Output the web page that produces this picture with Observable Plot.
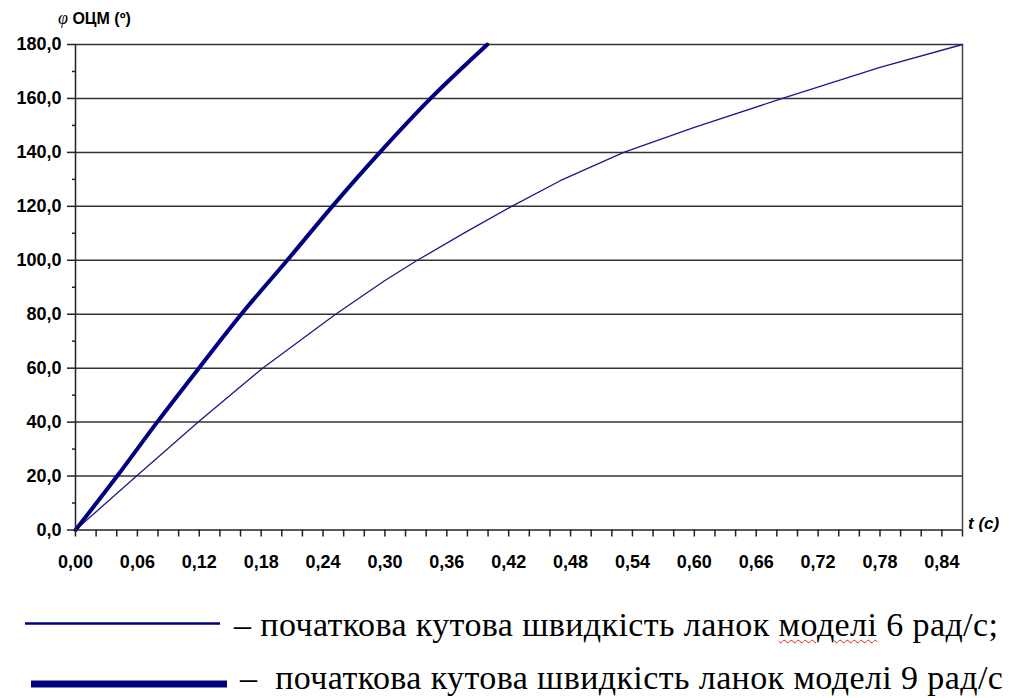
<!DOCTYPE html>
<html>
<head>
<meta charset="utf-8">
<script src="https://cdn.jsdelivr.net/npm/d3@7"></script>
<script src="https://cdn.jsdelivr.net/npm/@observablehq/plot@0.6"></script>
<style>
  html, body { margin: 0; padding: 0; background: #fff; }
  #wrap { position: relative; width: 1009px; height: 698px; overflow: hidden; }
  #chart { position: absolute; left: 0; top: 0; }
  .leg { position: absolute; font-family: "Liberation Serif", "Times New Roman", serif; font-size: 34px; letter-spacing: 0.4px; color: #000; white-space: pre; line-height: 0.9; }
  .wavy { text-decoration: underline wavy #e02020; text-decoration-thickness: 1px; text-underline-offset: 3px; }
  .ytitle { position: absolute; left: 58px; top: 8px; font-family: "Liberation Sans", Arial, sans-serif; font-weight: bold; font-size: 16px; white-space: pre; }
  .ytitle i { font-family: "Liberation Serif", serif; font-weight: normal; font-size: 18px; }
  .xtitle { position: absolute; left: 968px; top: 514px; font-family: "Liberation Sans", Arial, sans-serif; font-weight: bold; font-style: italic; font-size: 17px; white-space: pre; }
</style>
</head>
<body>
<div id="wrap">
  <div id="chart"></div>
  <div class="ytitle"><i>φ</i> ОЦМ (º)</div>
  <div class="xtitle">t (с)</div>
  <svg style="position:absolute;left:0;top:600px" width="260" height="98">
    <line x1="25" x2="220" y1="23.5" y2="23.5" stroke="#000080" stroke-width="2.5"/>
    <line x1="31" x2="227" y1="84" y2="84" stroke="#000080" stroke-width="7"/>
  </svg>
  <div class="leg" style="left:234px; top:610px;">– початкова кутова швидкість ланок <span class="wavy">моделі</span> 6 рад/с;</div>
  <div class="leg" style="left:240px; top:663px;">–  початкова кутова швидкість ланок моделі 9 рад/с</div>
</div>
<script>
// Series: initial angular velocity 6 rad/s (thin) and 9 rad/s (thick)
const t6   = [0, 0.0592, 0.119, 0.1814, 0.2522, 0.30, 0.3314, 0.38, 0.4229, 0.47, 0.5315, 0.60, 0.6854, 0.78, 0.86];
const phi6 = [0, 20, 40, 60, 80, 92.5, 100, 110.8, 120, 129.5, 140, 149.3, 160, 171.5, 180];
const t9   = [0, 0.0404, 0.0792, 0.1196, 0.1607, 0.2053, 0.249, 0.2951, 0.3443, 0.3993];
const phi9 = [0, 20, 40, 60, 80, 100, 120, 140, 160, 180];

const yTicks = [0, 20, 40, 60, 80, 100, 120, 140, 160, 180];
const yMinor = [10, 30, 50, 70, 90, 110, 130, 150, 170];
const xLabelTicks = [0, 0.06, 0.12, 0.18, 0.24, 0.30, 0.36, 0.42, 0.48, 0.54, 0.60, 0.66, 0.72, 0.78, 0.84];
const xMinor = [0, 0.02, 0.04, 0.06, 0.08, 0.10, 0.12, 0.14, 0.16, 0.18, 0.20, 0.22, 0.24, 0.26, 0.28, 0.30, 0.32, 0.34, 0.36, 0.38, 0.40, 0.42, 0.44, 0.46, 0.48, 0.50, 0.52, 0.54, 0.56, 0.58, 0.60, 0.62, 0.64, 0.66, 0.68, 0.70, 0.72, 0.74, 0.76, 0.78, 0.80, 0.82, 0.84, 0.86];
const xMax = 0.86, yMax = 180;

const s6 = t6.map((t, i) => ({t, phi: phi6[i]}));
const s9 = t9.map((t, i) => ({t, phi: phi9[i]}));
const comma = (d, n) => d.toFixed(n).replace(".", ",");

const chart = Plot.plot({
  width: 1009,
  height: 580,
  marginLeft: 75,
  marginRight: 47,
  marginTop: 44,
  marginBottom: 50.5,
  style: {fontFamily: "'Liberation Sans', Arial, sans-serif", background: "#fff", color: "#000"},
  x: {domain: [0, xMax]},
  y: {domain: [0, yMax]},
  marks: [
    Plot.gridY(yTicks.slice(1), {stroke: "#333", strokeOpacity: 1, strokeWidth: 1.5}),
    Plot.ruleX([xMax], {stroke: "#444", strokeWidth: 1.5}),
    Plot.line(s6, {x: "t", y: "phi", stroke: "#1a1a8c", strokeWidth: 1.3}),
    Plot.line(s9, {x: "t", y: "phi", stroke: "#000080", strokeWidth: 4, curve: "monotone-x"}),
    Plot.ruleX([0], {stroke: "#222", strokeWidth: 1.5}),
    Plot.ruleY([0], {stroke: "#222", strokeWidth: 1.5}),
    Plot.axisY(yTicks, {tickSize: 8, tickPadding: 6, tickFormat: d => comma(d, 1), fontSize: 18, fontWeight: "bold", stroke: "#222", strokeWidth: 1.5, label: null}),
    Plot.axisY(yMinor, {tickSize: 3, tickFormat: () => "", stroke: "#222", strokeWidth: 1.5, label: null}),
    Plot.axisX(xMinor, {tickSize: 7, tickFormat: () => "", stroke: "#222", strokeWidth: 1.5, label: null}),
    Plot.axisX(xLabelTicks, {tickSize: 0, tickPadding: 25, tickFormat: d => comma(d, 2), fontSize: 18, fontWeight: "bold", label: null})
  ]
});
document.getElementById("chart").appendChild(chart);
</script>
</body>
</html>
